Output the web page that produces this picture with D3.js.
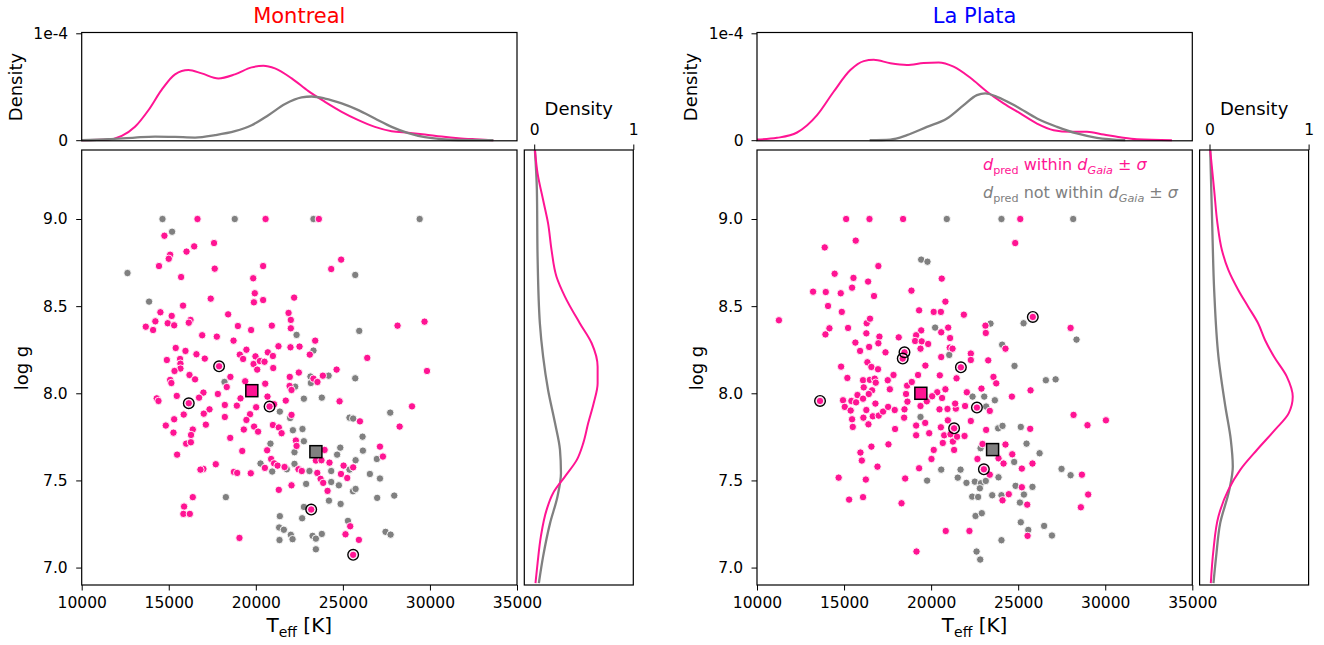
<!DOCTYPE html>
<html lang="en">
<head>
<meta charset="UTF-8">
<title>Teff - log g, Montreal / La Plata</title>
<style>
  body { margin: 0; background: #fff; }
  svg { font-family: "DejaVu Sans", sans-serif; }
</style>
</head>
<body>
<div id="chart"></div>
<script src="https://d3js.org/d3.v7.min.js"></script>
<script>
// ---- tick labels ----
const teffTicks = [10000, 15000, 20000, 25000, 30000, 35000];
const loggTicks = [7.0, 7.5, 8.0, 8.5, 9.0];
const topDensTicks = [0, 1];
const topDensLabels = ["0", "1e-4"];
const sideDensTicks = [0, 1];

// ---- Montreal: [Teff, log g] ----
const montrealPink = [
  [16650,9.0],[20560,9.0],[23620,9.0],
  [14750,8.904],[17600,8.862],[16460,8.843],[16020,8.813],[15080,8.795],[15000,8.772],[14440,8.730],[17640,8.715],[20420,8.730],[24900,8.767],[24330,8.713],[15710,8.667],[19850,8.660],[19940,8.574],[19890,8.522],[20420,8.535],[17410,8.543],[22200,8.549],[15820,8.503],[14520,8.465],[15170,8.444],[18410,8.453],[21880,8.461],[22010,8.421],[14230,8.413],[14940,8.402],[15310,8.390],[16250,8.421],[16150,8.405],[13680,8.382],[14100,8.363],[18970,8.386],[19730,8.363],[20920,8.388],[22010,8.373],[28140,8.388],[29690,8.411],[16920,8.333],[17760,8.325],[18720,8.302],[23410,8.302],[15400,8.260],[15960,8.243],[19460,8.250],[21300,8.270],[21990,8.264],[22510,8.268],[23100,8.222],[20690,8.235],[20980,8.214],[16590,8.224],[14890,8.191],[15650,8.197],[17070,8.199],[19080,8.222],[19270,8.197],[19980,8.212],[19870,8.168],[20230,8.185],[20500,8.181],[15670,8.170],[15670,8.142],[15330,8.128],[21000,8.145],[20080,8.136],[17890,8.155],[22470,8.119],[24640,8.136],[26400,8.203],[16190,8.105],[16510,8.080],[15080,8.077],[15150,8.059],[18540,8.094],[21950,8.094],[18330,8.036],[20540,8.055],[21940,8.042],[22050,8.019],[23310,8.084],[23540,8.065],[23850,8.101],[29830,8.128],[19390,8.069],
  [15460,7.985],[16990,8.004],[17820,7.996],[16740,7.975],[14310,7.971],[14410,7.956],[16150,7.943],[18220,7.933],[18910,7.929],[19120,7.971],[20020,7.920],[20670,7.981],[21050,7.937],[20790,7.924],[21720,7.958],[24810,7.954],[17340,7.908],[17010,7.883],[15860,7.878],[18220,7.864],[19670,7.880],[15310,7.851],[19460,7.847],[22050,7.876],[17130,7.820],[14830,7.815],[19900,7.809],[19310,7.792],[20130,7.780],[20980,7.818],[21320,7.804],[21480,7.771],[16380,7.792],[16280,7.761],[15270,7.774],[16000,7.711],[16270,7.719],[18530,7.744],[25980,7.839],[28970,7.925],[28260,7.809],[22300,7.729],[22340,7.698],[20650,7.673],[19220,7.669],[15480,7.648],[23950,7.675],[27130,7.694],[27300,7.637],[20880,7.623],[21050,7.598],[21250,7.585],[20520,7.572],[21650,7.577],[23450,7.614],[23770,7.616],[24230,7.602],[25040,7.585],[17700,7.593],[16990,7.566],[16820,7.562],[18740,7.549],[19710,7.541],[18930,7.543],[22450,7.564],[22640,7.554],[23530,7.543],[25590,7.575],[24890,7.537],[25250,7.514],[23720,7.509],[23870,7.486],[22050,7.472],[21320,7.446],[24120,7.440],[16380,7.404],[15880,7.350],[15840,7.308],[16210,7.308],[23180,7.333],[25420,7.237],[19060,7.170],[25150,7.191],[25920,7.159],[25590,7.073]
];
const montrealGray = [
  [14640,9.0],[18790,9.0],[23310,9.0],[29410,9.0],[15190,8.927],[12630,8.690],[25710,8.679],[13870,8.526],[25940,8.358],[22340,8.335],[23310,8.245],[18200,8.065],[23140,8.096],[23160,8.059],[24180,8.101],[22260,8.038],[25710,8.086],[22760,7.969],[23790,7.975],[21380,7.895],[21970,7.858],[22130,7.788],[22680,7.795],[25380,7.860],[25590,7.855],[27720,7.889],[26130,7.751],[22760,7.725],[20840,7.711],[22220,7.662],[24850,7.688],[24670,7.648],[26150,7.671],[26950,7.623],[25730,7.616],[20270,7.597],[22220,7.595],[21780,7.564],[20940,7.551],[23080,7.554],[24330,7.554],[25380,7.562],[26550,7.537],[27130,7.511],[24330,7.491],[24770,7.472],[22890,7.480],[25580,7.438],[25730,7.451],[26970,7.400],[27950,7.413],[18280,7.404],[24200,7.384],[24870,7.365],[22760,7.348],[21380,7.295],[22660,7.283],[25290,7.268],[21340,7.230],[21610,7.217],[22010,7.188],[22110,7.163],[21360,7.158],[23260,7.182],[23450,7.166],[23790,7.193],[23450,7.105],[27450,7.205],[27740,7.189]
];
const montrealRinged = [[17890,8.155],[16150,7.943],[20790,7.924],[23180,7.333],[25590,7.073]];
const montrealMeanPink = [19770, 8.015];
const montrealMeanGray = [23450, 7.665];

// top density [Teff, density in 1e-4]
const montrealTopPink = [[10000,0],[11530,0.006],[12300,0.04],[13060,0.125],[13830,0.28],[14590,0.47],[15360,0.616],[16130,0.656],[16890,0.625],[17850,0.578],[18800,0.616],[19760,0.681],[20430,0.697],[21100,0.672],[22060,0.578],[23020,0.459],[23970,0.359],[24930,0.266],[25890,0.188],[26840,0.125],[27800,0.084],[28760,0.069],[29710,0.053],[30670,0.034],[31630,0.019],[32590,0.009],[33640,0]];
const montrealTopGray = [[10000,0],[11530,0.009],[13060,0.025],[14210,0.034],[15360,0.031],[16510,0.025],[17660,0.047],[18800,0.084],[19760,0.14],[20720,0.234],[21680,0.338],[22630,0.40],[23210,0.409],[23970,0.39],[24930,0.344],[25890,0.281],[26840,0.203],[27800,0.125],[28760,0.066],[29710,0.028],[30670,0.009],[31630,0.002],[33640,0]];
// side density [log g, density]
const montrealSidePink = [[9.396,0.007],[9.262,0.034],[9.109,0.09],[8.975,0.14],[8.822,0.175],[8.669,0.225],[8.555,0.31],[8.402,0.46],[8.287,0.58],[8.153,0.64],[8.058,0.64],[7.943,0.60],[7.829,0.545],[7.714,0.495],[7.618,0.43],[7.522,0.31],[7.427,0.19],[7.331,0.125],[7.178,0.067],[7.026,0.034],[6.911,0.013]];
const montrealSideGray = [[9.396,0.007],[9.166,0.027],[8.784,0.034],[8.402,0.057],[8.211,0.09],[8.019,0.14],[7.829,0.21],[7.676,0.26],[7.542,0.27],[7.408,0.235],[7.255,0.16],[7.064,0.09],[6.911,0.047]];

// ---- La Plata: [Teff, log g] ----
const laPlataPink = [
  [15120,9.0],[16460,9.0],[18390,9.0],[25120,9.0],
  [15670,8.876],[13890,8.837],[24830,8.862],[16970,8.730],[14460,8.686],[15540,8.662],[16380,8.641],[20610,8.658],[15460,8.606],[13220,8.583],[13950,8.581],[14810,8.574],[16720,8.558],[18870,8.589],[20820,8.526],[14080,8.501],[14870,8.467],[11260,8.419],[19310,8.476],[20150,8.467],[20560,8.467],[21880,8.451],[25840,8.438],[23120,8.388],[23140,8.346],[28010,8.375],[14160,8.373],[13930,8.338],[15230,8.375],[16300,8.402],[16490,8.428],[16280,8.344],[20980,8.377],[20580,8.350],[21090,8.317],[17030,8.325],[18140,8.321],[19430,8.361],[19140,8.333],[19080,8.300],[19460,8.298],[19830,8.283],[15650,8.291],[16440,8.266],[16970,8.287],[15920,8.243],[17380,8.235],[19390,8.256],[21070,8.262],[21230,8.256],[20580,8.208],[24270,8.256],[22280,8.228],[22280,8.191],[23280,8.189],[18470,8.235],[18370,8.199],[21710,8.149],[14830,8.153],[16340,8.178],[16570,8.151],[16950,8.138],[15190,8.088],[16090,8.075],[16480,8.077],[16760,8.084],[16820,8.061],[17510,8.075],[17840,8.105],[16130,8.034],[16610,8.017],[16420,7.996],[15770,7.990],[16090,7.969],[14940,7.960],[15420,7.956],[15690,7.948],[15040,7.922],[15380,7.901],[16280,7.904],[16800,7.941],[16650,7.868],[16990,7.872],[17240,7.895],[17530,7.922],[17910,7.904],[15460,7.851],[16110,7.860],[16400,7.822],[15500,7.807],[17630,8.023],[18620,8.044],[18890,8.065],[19250,8.105],[19670,8.159],[20500,8.103],[21460,8.086],[20820,8.023],[20350,8.006],[20060,7.983],[20630,7.973],[18560,7.996],[18640,7.952],[19390,7.927],[19750,7.954],[18470,7.908],[18450,7.860],[19660,7.830],[19140,7.815],[19140,7.759],[19890,7.771],[17930,7.795],[20480,7.908],[20940,7.910],[21420,7.912],[21380,7.941],[21950,7.927],[22050,8.006],[22890,8.027],[23580,8.094],[23740,8.057],[24640,7.981],[25710,8.017],[23370,7.899],[22630,7.918],[22280,7.841],[20960,7.845],[20560,7.805],[21320,7.799],[20750,7.759],[21110,7.765],[20670,7.715],[21250,7.723],[21490,7.751],[21920,7.755],[21320,7.675],[20150,7.675],[20020,7.623],[23160,7.790],[25690,7.796],[22950,7.709],[24270,7.706],[24660,7.650],[23870,7.627],[24160,7.597],[22660,7.623],[25210,7.568],[25820,7.597],[23030,7.564],[23370,7.533],[25210,7.461],[24460,7.421],[24100,7.386],[25520,7.361],[28660,7.533],[29020,7.419],[28600,7.346],[28980,7.817],[30040,7.845],[28180,7.876],[16250,7.505],[14690,7.516],[18510,7.511],[15290,7.390],[16090,7.404],[18300,7.369],[15940,7.660],[16020,7.614],[16570,7.694],[16920,7.579],[17550,7.707],[19310,7.570],[25540,7.182],[20840,7.210],[22200,7.210],[19160,7.092],[13620,7.956]
];
const laPlataGray = [
  [20900,9.0],[24040,9.0],[28160,9.0],[19430,8.767],[19790,8.755],[25310,8.402],[23410,8.400],[28350,8.308],[20230,8.377],[21040,8.220],[24080,8.279],[24790,8.157],[22380,7.981],[23050,7.981],[23660,7.960],[23160,7.924],[19390,7.864],[23850,7.799],[24100,7.813],[25150,7.807],[25480,7.711],[22840,7.685],[24770,7.606],[26230,7.656],[21690,7.562],[20580,7.562],[21530,7.516],[19770,7.499],[22030,7.486],[22510,7.493],[22860,7.484],[23140,7.497],[23870,7.518],[22800,7.455],[24850,7.469],[25330,7.419],[25820,7.463],[23510,7.415],[24040,7.415],[22360,7.407],[22700,7.405],[25100,7.373],[27490,7.566],[28010,7.530],[26590,8.075],[27150,8.080],[22550,7.296],[22910,7.312],[25150,7.260],[25580,7.216],[26490,7.239],[26940,7.184],[24040,7.157],[22610,7.092],[22820,7.046]
];
const laPlataRinged = [[25840,8.438],[18470,8.235],[18370,8.199],[21710,8.149],[22630,7.918],[21320,7.799],[23030,7.564],[13620,7.956]];
const laPlataMeanPink = [19410, 8.000];
const laPlataMeanGray = [23530, 7.677];

const laPlataTopPink = [[10000,0.006],[11150,0.022],[12300,0.072],[13450,0.234],[14400,0.453],[15360,0.656],[16130,0.74],[16700,0.753],[17660,0.719],[18610,0.703],[19570,0.722],[20430,0.728],[21290,0.688],[22250,0.584],[23210,0.453],[24160,0.344],[25120,0.25],[26080,0.156],[27040,0.094],[27990,0.078],[28950,0.078],[29910,0.053],[30860,0.028],[31820,0.009],[33830,0]];
const laPlataTopGray = [[16470,0],[17660,0.006],[18610,0.047],[19760,0.125],[20910,0.203],[21870,0.328],[22630,0.422],[23110,0.438],[23780,0.406],[24930,0.313],[26080,0.203],[27230,0.125],[28370,0.063],[29520,0.022],[31150,0]];
const laPlataSidePink = [[9.396,0.007],[9.166,0.047],[8.975,0.08],[8.822,0.125],[8.708,0.19],[8.593,0.29],[8.497,0.39],[8.402,0.49],[8.306,0.56],[8.211,0.65],[8.096,0.78],[7.981,0.84],[7.886,0.80],[7.790,0.66],[7.676,0.48],[7.561,0.31],[7.446,0.19],[7.293,0.09],[7.102,0.04],[6.911,0.013]];
const laPlataSideGray = [[9.396,0.007],[8.975,0.027],[8.593,0.047],[8.211,0.09],[7.924,0.16],[7.733,0.215],[7.580,0.235],[7.446,0.20],[7.255,0.108],[7.064,0.067],[6.911,0.04]];

const pink = "#ff1493", gray = "#808080";
const tickFont = 15.5, labelFont = 18;

const svg = d3.select("#chart").append("svg")
    .attr("width", 1324)
    .attr("height", 645);

function styleAxis(g) {
    g.attr("font-family", "DejaVu Sans").attr("font-size", tickFont);
    g.select(".domain").remove();
    g.selectAll(".tick line").attr("stroke", "#000").attr("stroke-width", 1);
    g.selectAll(".tick text").attr("fill", "#000");
}

function drawPanel(dx, name, nameColor, d, withLegend) {
    const g = svg.append("g").attr("transform", "translate(" + dx + ",0)");

    // scales
    const x = d3.scaleLinear().domain([10000, 35000]).range([81.7, 517]);
    const y = d3.scaleLinear().domain([6.9, 9.396]).range([585, 150]);
    const yTop = d3.scaleLinear().domain([0, 1]).range([140.2, 33.3]);
    const xSide = d3.scaleLinear().domain([-0.1, 1]).range([524.3, 633.3]);

    // title
    g.append("text")
        .attr("x", 299.3).attr("y", 23)
        .attr("text-anchor", "middle")
        .attr("font-size", 21)
        .attr("fill", nameColor)
        .text(name);

    // ---- top density ----
    const lineTop = d3.line().x(p => x(p[0])).y(p => yTop(p[1])).curve(d3.curveMonotoneX);
    g.append("path").datum(d.topPink).attr("d", lineTop)
        .attr("fill", "none").attr("stroke", pink).attr("stroke-width", 2);
    g.append("path").datum(d.topGray).attr("d", lineTop)
        .attr("fill", "none").attr("stroke", gray).attr("stroke-width", 2.3);
    g.append("rect").attr("x", 81.7).attr("y", 32.5).attr("width", 517 - 81.7).attr("height", 108.3)
        .attr("fill", "none").attr("stroke", "#000").attr("stroke-width", 1.2);
    g.append("g").attr("transform", "translate(81.7,0)")
        .call(d3.axisLeft(yTop).tickValues(topDensTicks)
            .tickFormat((v, i) => topDensLabels[i]).tickSize(5.5).tickPadding(8))
        .call(styleAxis);
    g.append("text")
        .attr("transform", "translate(22,87) rotate(-90)")
        .attr("text-anchor", "middle").attr("font-size", labelFont)
        .text("Density");

    // ---- side density ----
    const lineSide = d3.line().x(p => xSide(p[1])).y(p => y(p[0])).curve(d3.curveMonotoneY);
    g.append("path").datum(d.sideGray).attr("d", lineSide)
        .attr("fill", "none").attr("stroke", gray).attr("stroke-width", 2.3);
    g.append("path").datum(d.sidePink).attr("d", lineSide)
        .attr("fill", "none").attr("stroke", pink).attr("stroke-width", 2);
    g.append("rect").attr("x", 524.3).attr("y", 150).attr("width", 109).attr("height", 435)
        .attr("fill", "none").attr("stroke", "#000").attr("stroke-width", 1.2);
    g.append("g").attr("transform", "translate(0,150)")
        .call(d3.axisTop(xSide).tickValues(sideDensTicks).tickFormat(d3.format("d"))
            .tickSize(5.5).tickPadding(9.5))
        .call(styleAxis);
    g.append("text")
        .attr("x", 578.8).attr("y", 115)
        .attr("text-anchor", "middle").attr("font-size", labelFont)
        .text("Density");

    // ---- main scatter ----
    const main = g.append("g");
    main.append("g").selectAll("circle")
        .data(d.gray).enter().append("circle")
        .attr("cx", p => x(p[0])).attr("cy", p => y(p[1]))
        .attr("r", 3.7).attr("fill", gray).attr("stroke", "#fff").attr("stroke-width", 0.9);
    main.append("g").selectAll("circle")
        .data(d.pink).enter().append("circle")
        .attr("cx", p => x(p[0])).attr("cy", p => y(p[1]))
        .attr("r", 3.7).attr("fill", pink).attr("stroke", "#fff").attr("stroke-width", 0.9);
    main.append("g").selectAll("circle")
        .data(d.ringed).enter().append("circle")
        .attr("cx", p => x(p[0])).attr("cy", p => y(p[1]))
        .attr("r", 5.3).attr("fill", "none").attr("stroke", "#000").attr("stroke-width", 1.4);

    // mean markers
    const sq = 12;
    [[d.meanPink, pink], [d.meanGray, gray]].forEach(m => {
        main.append("rect")
            .attr("x", x(m[0][0]) - sq / 2).attr("y", y(m[0][1]) - sq / 2)
            .attr("width", sq).attr("height", sq)
            .attr("fill", m[1]).attr("stroke", "#000").attr("stroke-width", 1.5);
    });

    g.append("rect").attr("x", 81.7).attr("y", 150).attr("width", 517 - 81.7).attr("height", 435)
        .attr("fill", "none").attr("stroke", "#000").attr("stroke-width", 1.2);

    g.append("g").attr("transform", "translate(0,585)")
        .call(d3.axisBottom(x).tickValues(teffTicks).tickFormat(d3.format("d"))
            .tickSize(5.5).tickPadding(6.5))
        .call(styleAxis);
    g.append("g").attr("transform", "translate(81.7,0)")
        .call(d3.axisLeft(y).tickValues(loggTicks).tickFormat(d3.format(".1f"))
            .tickSize(5.5).tickPadding(8.5))
        .call(styleAxis);

    // axis labels
    const xl = g.append("text")
        .attr("x", 299.3).attr("y", 632)
        .attr("text-anchor", "middle").attr("font-size", 20);
    xl.append("tspan").text("T");
    xl.append("tspan").attr("font-size", 14).attr("dy", 4.5).text("eff");
    xl.append("tspan").attr("dy", -4.5).text(" [K]");

    g.append("text")
        .attr("transform", "translate(27.5,368) rotate(-90)")
        .attr("text-anchor", "middle").attr("font-size", labelFont)
        .text("log g");

    if (withLegend) {
        const lines = [["within", pink, 170], ["not within", gray, 198]];
        lines.forEach(l => {
            const t = g.append("text")
                .attr("x", 983 - dx).attr("y", l[2])
                .attr("font-size", 16).attr("fill", l[1]);
            t.append("tspan").attr("font-style", "italic").text("d");
            t.append("tspan").attr("font-size", 11.2).attr("dy", 3.5).text("pred");
            t.append("tspan").attr("dy", -3.5).text(" " + l[0] + " ");
            t.append("tspan").attr("font-style", "italic").text("d");
            t.append("tspan").attr("font-size", 11.2).attr("dy", 3.5).attr("font-style", "italic").text("Gaia");
            t.append("tspan").attr("dy", -3.5).text(" \u00b1 ");
            t.append("tspan").attr("font-style", "italic").text("\u03c3");
        });
    }
}

drawPanel(0, "Montreal", "#ff0000", {
    pink: montrealPink, gray: montrealGray, ringed: montrealRinged,
    meanPink: montrealMeanPink, meanGray: montrealMeanGray,
    topPink: montrealTopPink, topGray: montrealTopGray,
    sidePink: montrealSidePink, sideGray: montrealSideGray
}, false);

drawPanel(675.3, "La Plata", "#0000ff", {
    pink: laPlataPink, gray: laPlataGray, ringed: laPlataRinged,
    meanPink: laPlataMeanPink, meanGray: laPlataMeanGray,
    topPink: laPlataTopPink, topGray: laPlataTopGray,
    sidePink: laPlataSidePink, sideGray: laPlataSideGray
}, true);
</script>
</body>
</html>
